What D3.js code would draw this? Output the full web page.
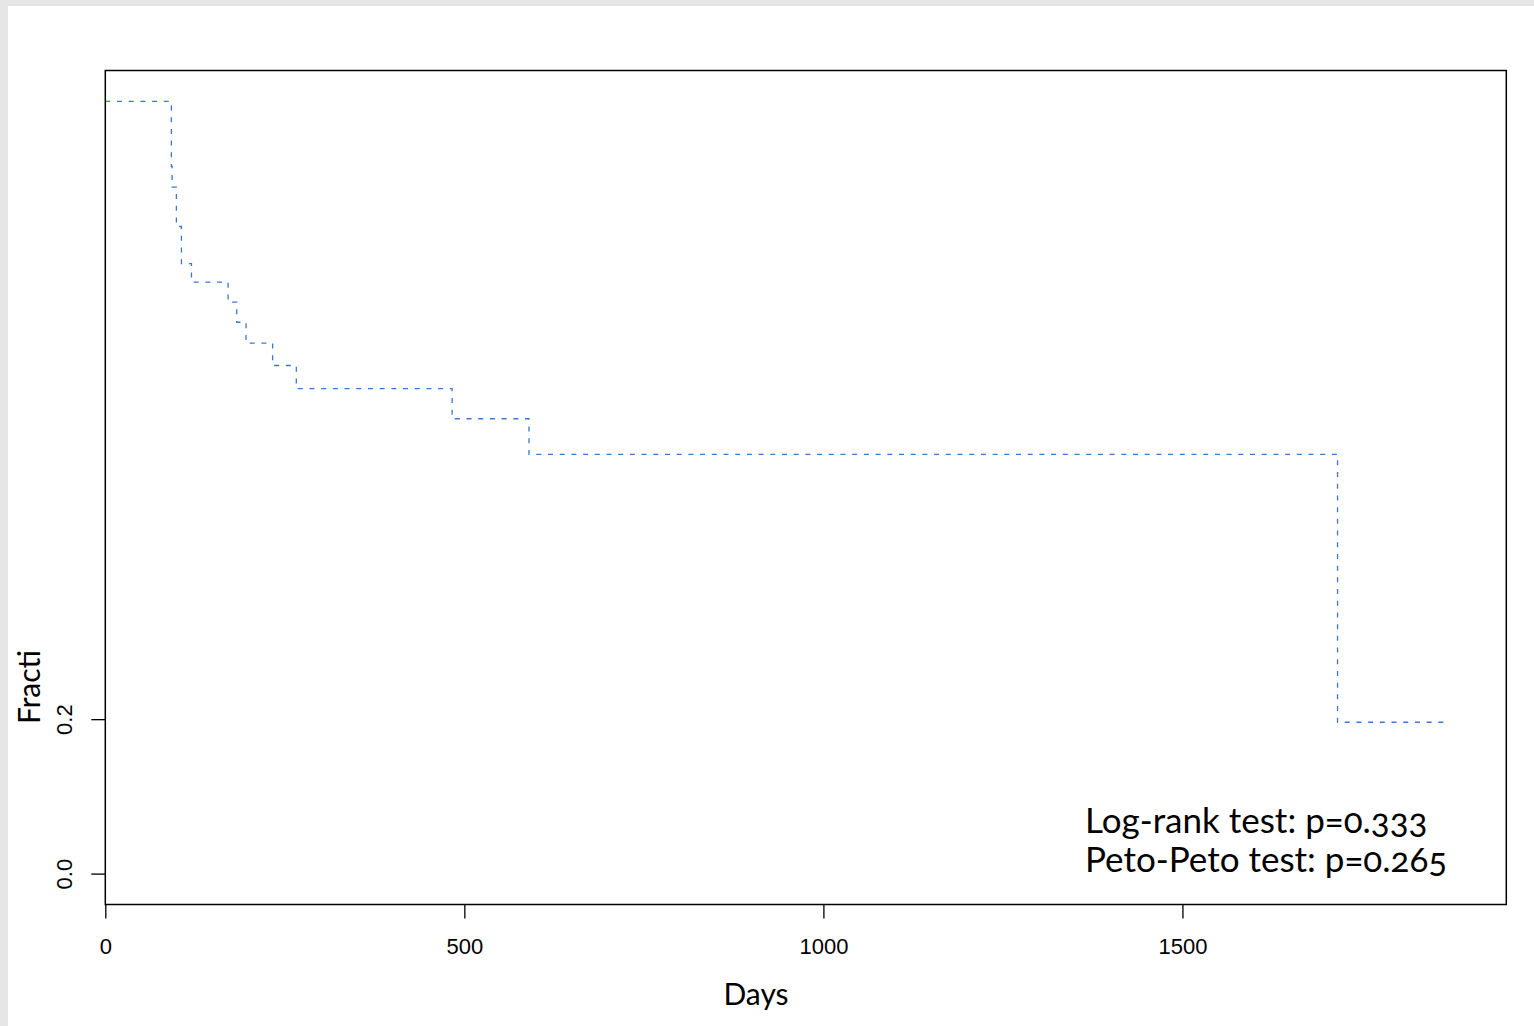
<!DOCTYPE html>
<html>
<head>
<meta charset="utf-8">
<script src="https://cdn.jsdelivr.net/npm/d3@7"></script>
<style>
  body { margin: 0; background: #e6e6e6; }
  svg { display: block; }
</style>
</head>
<body>
<svg id="km"></svg>
<script>
var width = 1534,
    height = 1026

// step times (days) and survival fraction after each step
var times = [0, 92, 93, 99, 106, 120, 171, 183, 196, 233, 266, 483, 590, 1716];
var surv = [1.0, 0.916, 0.889, 0.838, 0.790, 0.766, 0.740, 0.714, 0.687, 0.658, 0.628, 0.589, 0.543, 0.196];
var lastTime = 1870;

var xTicks = [0, 500, 1000, 1500];
var yTicks = [0, 0.2];
var yTickLabels = ["0.0", "0.2"];
var notes = ["Log-rank test: p=0.333", "Peto-Peto test: p=0.265"];

var svg = d3.select("svg#km")
    .attr("width", width)
    .attr("height", height);

svg.append("rect")
    .attr("x", 8)
    .attr("y", 6)
    .attr("width", width - 8)
    .attr("height", height - 6)
    .attr("fill", "#fff")

var plotL = 105.3, plotR = 1506.3, plotT = 70.5, plotB = 904.5;

var x = d3.scaleLinear().domain([0, 1951]).range([plotL, plotR]);
var y = d3.scaleLinear().domain([-0.04, 1.04]).range([plotB, plotT]);

var pts = times.map(function(t, i){ return [t, surv[i]]; });
pts.push([lastTime, surv[surv.length - 1]]);

var line = d3.line()
    .x(function(d){ return x(d[0]) })
    .y(function(d){ return y(d[1]) })
    .curve(d3.curveStepAfter);

svg.append("path")
    .datum(pts)
    .attr("d", line)
    .attr("fill", "none")
    .attr("stroke", "#3a78cc")
    .attr("stroke-width", 1.3)
    .attr("stroke-dasharray", "5,6.7")

svg.append("rect")
    .attr("x", plotL)
    .attr("y", plotT)
    .attr("width", plotR - plotL)
    .attr("height", plotB - plotT)
    .attr("fill", "none")
    .attr("stroke", "#000")
    .attr("stroke-width", 1.5)

var xAxis = svg.append("g")
    .attr("transform", "translate(0," + plotB + ")")
    .call(d3.axisBottom(x).tickValues(xTicks).tickSize(14).tickPadding(20.5).tickFormat(d3.format("d")));

var yAxis = svg.append("g")
    .attr("transform", "translate(" + plotL + ",0)")
    .call(d3.axisLeft(y).tickValues(yTicks).tickSize(14).tickFormat(function(d, i){ return yTickLabels[i] }));

[xAxis, yAxis].forEach(function(ax){
    ax.select(".domain").remove();
    ax.selectAll("line").attr("stroke", "#000").attr("stroke-width", 1.3);
    ax.selectAll("text")
        .attr("fill", "#000")
        .style("font-family", "'Liberation Sans', Arial, sans-serif")
        .style("font-size", "22px");
});

xAxis.selectAll("text").attr("dy", "0.68em")

yAxis.selectAll("text")
    .attr("transform", "rotate(-90)")
    .attr("x", 0)
    .attr("y", -33.5)
    .attr("dy", 0)
    .attr("text-anchor", "middle")

svg.append("text")
    .attr("x", 756)
    .attr("y", 1005)
    .attr("text-anchor", "middle")
    .style("font-family", "Lato, sans-serif")
    .style("font-size", "30px")
    .text("Days")

svg.append("text")
    .attr("transform", "translate(40,724) rotate(-90)")
    .attr("text-anchor", "start")
    .style("font-family", "Lato, sans-serif")
    .style("font-size", "30px")
    .text("Fracti")

svg.selectAll("text.note")
    .data(notes)
    .enter()
    .append("text")
    .attr("class", "note")
    .attr("x", 1085)
    .attr("y", function(d, i){ return 833 + i * 39 })
    .style("font-family", "Lato, sans-serif")
    .style("font-size", "35px")
    .style("font-variant-numeric", "oldstyle-nums")
    .text(function(d){ return d })
</script>
</body>
</html>
